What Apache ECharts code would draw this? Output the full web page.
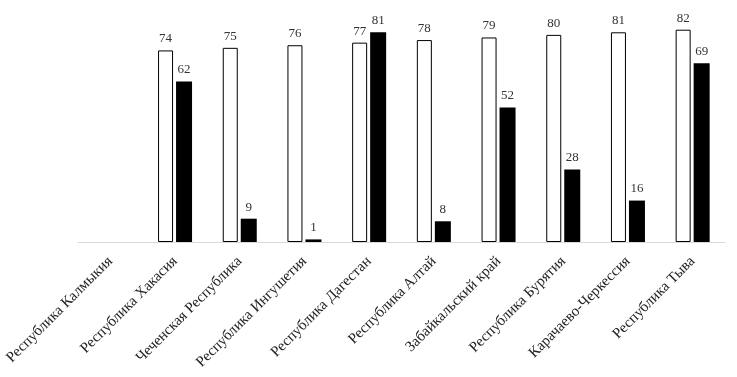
<!DOCTYPE html>
<html>
<head>
<meta charset="utf-8">
<script src="https://cdn.jsdelivr.net/npm/echarts@6/dist/echarts.min.js"></script>
<style>
  html, body { margin: 0; padding: 0; background: #fff; }
  #chart { width: 737px; height: 377px; }
</style>
</head>
<body>
<div id="chart"></div>
<script>
const categories = ['Республика Калмыкия', 'Республика Хакасия', 'Чеченская Республика',
  'Республика Ингушетия', 'Республика Дагестан', 'Республика Алтай', 'Забайкальский край',
  'Республика Бурятия', 'Карачаево-Черкессия', 'Республика Тыва'];
const whiteValues = [null, 74, 75, 76, 77, 78, 79, 80, 81, 82];
const blackValues = [null, 62, 9, 1, 81, 8, 52, 28, 16, 69];

const chart = echarts.init(document.getElementById('chart'));

const labelStyle = {
  show: true,
  position: 'top',
  distance: 5,
  fontFamily: 'Liberation Serif',
  fontSize: 13,
  color: '#333'
};

chart.setOption({
  animation: false,
  grid: { left: 78, right: 12, top: 9, bottom: 135 },
  xAxis: {
    type: 'category',
    data: categories,
    axisLine: { lineStyle: { color: '#d9d9d9', width: 1 } },
    axisTick: { show: false },
    axisLabel: {
      rotate: 45,
      interval: 0,
      margin: 17,
      fontFamily: 'Liberation Serif',
      fontSize: 15,
      color: '#222'
    }
  },
  yAxis: {
    type: 'value',
    min: 0,
    max: 90,
    show: false
  },
  series: [
    {
      type: 'bar',
      data: whiteValues,
      barWidth: 15,
      barGap: '20%',
      itemStyle: { color: '#fff', borderColor: '#000', borderWidth: 1 },
      label: labelStyle
    },
    {
      type: 'bar',
      data: blackValues,
      barWidth: 16,
      itemStyle: { color: '#000' },
      label: labelStyle
    }
  ]
});
</script>
</body>
</html>
